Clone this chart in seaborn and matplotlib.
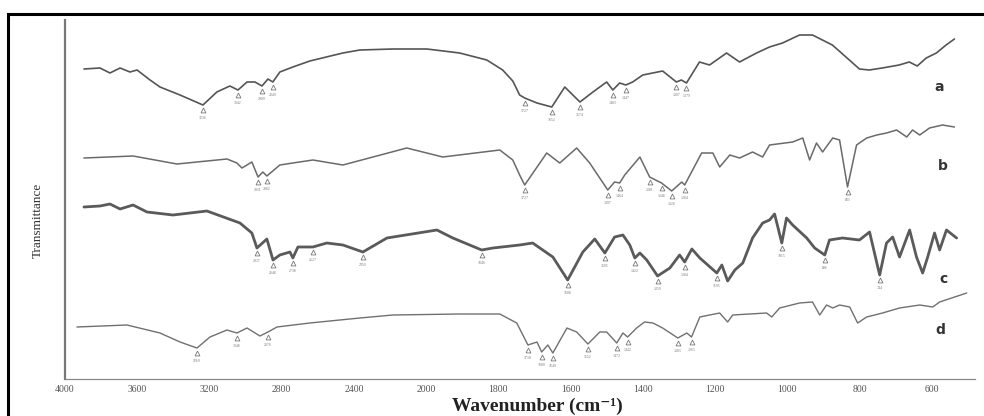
import numpy as np
import pandas as pd
import matplotlib
matplotlib.use("Agg")
import matplotlib.pyplot as plt
from matplotlib.patches import Rectangle
import seaborn as sns

# ---------------- data (wavenumber cm-1, transmittance offset a.u.) ----------------
a_wn = [3895, 3806, 3751, 3695, 3640, 3601, 3529, 3474, 3363, 3236, 3159, 3087, 3042, 2992, 2948,
        2909, 2876, 2849, 2810, 2738, 2644, 2461, 2367, 2184, 1998, 1907, 1832, 1788, 1760, 1741,
        1727, 1693, 1652, 1616, 1574, 1538, 1500, 1483, 1464, 1447, 1428, 1400, 1345, 1307, 1293,
        1279, 1243, 1215, 1168, 1132, 1085, 1049, 1013, 966, 930, 875, 828, 800, 773, 737, 690,
        662, 640, 615, 587, 560, 537]
a_T = [310, 311, 306, 311, 307, 309, 299, 292, 284, 274, 287, 293, 289, 297, 297,
       293, 300, 297, 307, 312, 318, 326, 329, 330, 330, 326, 319, 309, 298, 284,
       281, 276, 272, 292, 277, 287, 297, 289, 296, 294, 297, 304, 308, 297, 299,
       296, 317, 314, 326, 317, 326, 332, 336, 344, 344, 334, 319, 310, 309, 311, 314,
       317, 313, 321, 326, 334, 340]
a_peaks = [3236, 3042, 2909, 2849, 1727, 1652, 1574, 1483, 1447, 1307, 1279]

b_wn = [3895, 3623, 3380, 3103, 3048, 3020, 2965, 2931, 2904, 2882, 2810, 2738, 2627, 2461, 2107,
        1954, 1796, 1760, 1741, 1727, 1666, 1630, 1583, 1547, 1497, 1478, 1464, 1450, 1408, 1381,
        1348, 1320, 1292, 1284, 1237, 1206, 1187, 1159, 1132, 1096, 1068, 1049, 985, 957, 938,
        919, 902, 874, 855, 833, 808, 780, 752, 725, 697, 669, 653, 633, 606, 570, 537]
b_T = [221, 223, 215, 220, 216, 211, 217, 202, 207, 203, 214, 216, 219, 214, 231,
       222, 229, 219, 204, 194, 226, 216, 231, 216, 189, 197, 196, 204, 222, 202,
       196, 188, 197, 194, 226, 226, 212, 224, 221, 227, 222, 234, 237, 241, 219,
       236, 227, 241, 239, 192, 234, 241, 244, 246, 249, 242, 249, 244, 251, 254, 252]
b_peaks = [2931, 2882, 1727, 1497, 1464, 1381, 1348, 1320, 1284, 833]

c_wn = [3895, 3806, 3751, 3695, 3623, 3546, 3402, 3214, 3031, 2965, 2937, 2882, 2848, 2810, 2754,
        2738, 2710, 2627, 2550, 2461, 2350, 2217, 1970, 1926, 1846, 1815, 1741, 1705, 1649, 1608,
        1566, 1533, 1505, 1478, 1455, 1436, 1422, 1408, 1389, 1359, 1325, 1298, 1284, 1264, 1242,
        1220, 1195, 1181, 1165, 1145, 1123, 1096, 1068, 1049, 1035, 1015, 1002, 985, 946, 924,
        896, 883, 847, 800, 772, 744, 725, 708, 689, 661, 642, 625, 611, 592, 578, 559, 531]
c_T = [172, 173, 175, 170, 174, 167, 164, 168, 156, 146, 131, 140, 119, 124, 127,
       121, 132, 132, 136, 134, 127, 141, 149, 141, 129, 131, 134, 136, 122, 99,
       127, 140, 126, 142, 144, 134, 121, 126, 119, 103, 111, 124, 117, 130, 121,
       114, 106, 114, 98, 109, 116, 141, 156, 159, 165, 136, 161, 154, 141, 131,
       124, 139, 141, 139, 147, 104, 136, 142, 122, 149, 122, 106, 122, 146, 129, 149, 141]
c_peaks = [2937, 2848, 2738, 2627, 2350, 1846, 1608, 1505, 1422, 1359, 1284, 1195, 1015, 896, 744]

d_wn = [3934, 3657, 3474, 3363, 3269, 3197, 3103, 3048, 2992, 2920, 2876, 2826, 2644, 2367, 2184,
        1907, 1796, 1749, 1718, 1693, 1680, 1663, 1649, 1610, 1583, 1552, 1519, 1500, 1472, 1455,
        1442, 1417, 1395, 1372, 1345, 1303, 1278, 1265, 1242, 1215, 1187, 1165, 1151, 1057, 1043,
        1021, 966, 930, 910, 891, 874, 855, 827, 805, 780, 736, 689, 633, 597, 578, 503]
d_T = [52, 54, 46, 37, 31, 42, 49, 46, 51, 43, 47, 52, 56, 61, 64,
       65, 65, 56, 34, 37, 27, 34, 26, 51, 47, 35, 47, 47, 36, 46,
       42, 51, 57, 56, 51, 41, 46, 42, 62, 64, 66, 57, 64, 66, 62,
       71, 76, 77, 64, 74, 71, 74, 72, 56, 62, 66, 71, 74, 72, 77, 86]
d_peaks = [3269, 3048, 2876, 1718, 1680, 1649, 1552, 1472, 1442, 1303, 1265]

series_names = ["a", "b", "c", "d"]
major_ticks = [4000, 3600, 3200, 2800, 2400, 2000, 1800, 1600, 1400, 1200, 1000, 800, 600]
tick_labels = [str(t) for t in major_ticks]

# ---------------- figure ----------------
sns.set_style("white")
plt.rcParams["font.family"] = ["Liberation Serif", "DejaVu Serif"]

fig = plt.figure(figsize=(9.84, 4.16), dpi=100)
ax = fig.add_axes([65 / 984, 37 / 416, 910 / 984, 359 / 416])


def fwd(w):
    w = np.asarray(w, dtype=float)
    return np.where(w >= 2000, (w - 2000) / 400.0, (w - 2000) / 200.0)


def inv(v):
    v = np.asarray(v, dtype=float)
    return np.where(v >= 0, 2000 + 400.0 * v, 2000 + 200.0 * v)


ax.set_xscale("function", functions=(fwd, inv))

styles = {
    "a": dict(color="#555555", lw=1.2),
    "b": dict(color="#6a6a6a", lw=1.1),
    "c": dict(color="#5a5a5a", lw=2.0),
    "d": dict(color="#707070", lw=1.0),
}
data = {"a": (a_wn, a_T, a_peaks), "b": (b_wn, b_T, b_peaks),
        "c": (c_wn, c_T, c_peaks), "d": (d_wn, d_T, d_peaks)}

for name in series_names:
    wn, T, peaks = data[name]
    df = pd.DataFrame({"wn": wn, "T": T})
    sns.lineplot(data=df, x="wn", y="T", ax=ax, sort=False, estimator=None,
                 color=styles[name]["color"], linewidth=styles[name]["lw"])
    # peak markers
    wn_arr = np.array(wn[::-1], dtype=float)
    T_arr = np.array(T[::-1], dtype=float)
    for p in peaks:
        tv = np.interp(p, wn_arr, T_arr)
        ax.plot([p], [tv - 5], marker="^", ms=3.5, mfc="white", mec="#777777",
                mew=0.6, ls="none")
        ax.annotate(str(p), (p, tv - 5), xytext=(0, -4), textcoords="offset points",
                    ha="center", va="top", fontsize=2.8, color="#777777")

# series letters
letter_pos = {"a": (578, 292), "b": (570, 213), "c": (568, 100), "d": (575, 49)}
for name in series_names:
    x, y = letter_pos[name]
    ax.text(x, y, name, fontsize=10, fontweight="bold", color="#333333",
            family="DejaVu Sans", ha="center", va="center")

ax.set_xlim(4000, 480)
ax.set_ylim(0, 359)

minor = list(np.arange(4000, 2000, -80)) + list(np.arange(2000, 470, -40))
ax.set_xticks(major_ticks)
ax.set_xticklabels(tick_labels)
ax.set_xticks(minor, minor=True)
ax.set_yticks([])

ax.tick_params(axis="x", which="major", direction="inout", length=5, width=0.8,
               color="#666666", labelsize=7, labelcolor="#555555", pad=1.5)
ax.tick_params(axis="x", which="minor", direction="in", length=2.5, width=0.8,
               color="#777777")

for s in ["top", "right"]:
    ax.spines[s].set_visible(False)
ax.spines["left"].set_color("#777777")
ax.spines["left"].set_linewidth(1.6)
ax.spines["bottom"].set_color("#888888")
ax.spines["bottom"].set_linewidth(0.9)

ax.set_xlabel("Wavenumber (cm\u207b\u00b9)", fontsize=14, fontweight="bold",
              color="#222222")
ax.xaxis.set_label_coords(0.519, -0.053)
ax.set_ylabel("Transmittance", fontsize=9.5, color="#333333")
ax.yaxis.set_label_coords(-0.023, 0.443)

# outer black frame
fig.patches.append(Rectangle((8 / 984, -0.1), 1.2, 1.1 - 14 / 416,
                             transform=fig.transFigure, fill=False,
                             edgecolor="black", linewidth=2.2))

fig.savefig("out.png", dpi=100)
